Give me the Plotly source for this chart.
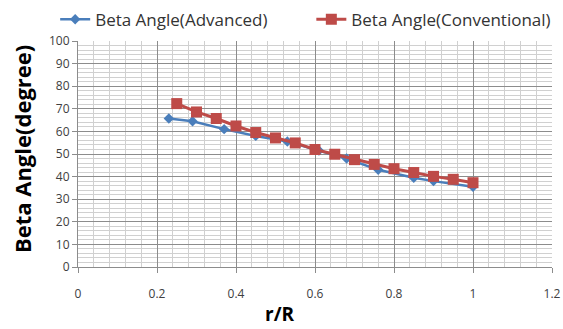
import plotly.graph_objects as go

adv_x = [0.23, 0.29, 0.37, 0.45, 0.53, 0.61, 0.68, 0.76, 0.85, 0.90, 1.0]
adv_y = [65.7, 64.5, 61.0, 58.0, 55.5, 51.5, 48.0, 43.0, 39.5, 38.0, 35.5]
conv_x = [0.25, 0.30, 0.35, 0.40, 0.45, 0.50, 0.55, 0.60, 0.65, 0.70, 0.75, 0.80, 0.85, 0.90, 0.95, 1.0]
conv_y = [72.3, 68.6, 65.7, 62.4, 59.5, 57.1, 54.9, 52.0, 49.9, 47.5, 45.4, 43.5, 41.8, 40.1, 38.8, 37.3]
x_ticks = [0, 0.2, 0.4, 0.6, 0.8, 1, 1.2]
x_labels = ["0", "0.2", "0.4", "0.6", "0.8", "1", "1.2"]
x_title = "r/R"
y_title = "Beta Angle(degree)"

FONT = "Open Sans"
fig = go.Figure()
fig.add_trace(go.Scatter(x=adv_x, y=adv_y, mode="lines+markers", name="Beta Angle(Advanced)",
                         line=dict(color="#4a7ebb", width=2.5),
                         marker=dict(symbol="diamond", size=8, color="#4a7ebb"),
                         legend="legend"))
fig.add_trace(go.Scatter(x=conv_x, y=conv_y, mode="lines+markers", name="Beta Angle(Conventional)",
                         line=dict(color="#be4b48", width=3),
                         marker=dict(symbol="square", size=11, color="#be4b48"),
                         legend="legend2"))

leg_common = dict(orientation="h", xref="container", yref="container",
                  y=0.995, xanchor="left", yanchor="top",
                  font=dict(size=17, color="#333333"), bgcolor="rgba(0,0,0,0)")

fig.update_layout(
    width=563, height=329,
    margin=dict(l=78, r=11, t=41, b=62),
    paper_bgcolor="white", plot_bgcolor="white",
    font=dict(family=FONT, color="#404040"),
    showlegend=True,
    legend=dict(x=0.098, **leg_common),
    legend2=dict(x=0.553, **leg_common),
    xaxis=dict(range=[0, 1.2], tickvals=x_ticks, ticktext=x_labels, automargin=False,
               showgrid=True, gridcolor="#8c8c8c", gridwidth=1,
               minor=dict(dtick=0.04, showgrid=True, gridcolor="#d0d0d0", gridwidth=1),
               showline=True, linecolor="#8c8c8c", linewidth=1,
               ticks="outside", ticklen=5, tickcolor="#8c8c8c",
               ticklabelstandoff=11,
               tickfont=dict(size=12, color="#404040"),
               zeroline=False),
    yaxis=dict(range=[0, 100], dtick=10, automargin=False,
               showgrid=True, gridcolor="#8c8c8c", gridwidth=1,
               minor=dict(dtick=2, showgrid=True, gridcolor="#d0d0d0", gridwidth=1),
               showline=True, linecolor="#8c8c8c", linewidth=1,
               ticks="outside", ticklen=5, tickcolor="#8c8c8c",
               tickfont=dict(size=12, color="#404040"),
               zeroline=False),
    annotations=[
        dict(text="<b>" + x_title + "</b>", xref="paper", yref="paper", x=0.425, y=-0.208,
             xanchor="center", yanchor="middle", showarrow=False,
             font=dict(size=19, color="#000000", family=FONT)),
        dict(text="<b>" + y_title + "</b>", xref="paper", yref="paper", x=-0.118, y=0.522,
             xanchor="center", yanchor="middle", showarrow=False, textangle=-90,
             font=dict(size=22, color="#000000", family=FONT)),
    ],
)

fig.write_html("out.html")
